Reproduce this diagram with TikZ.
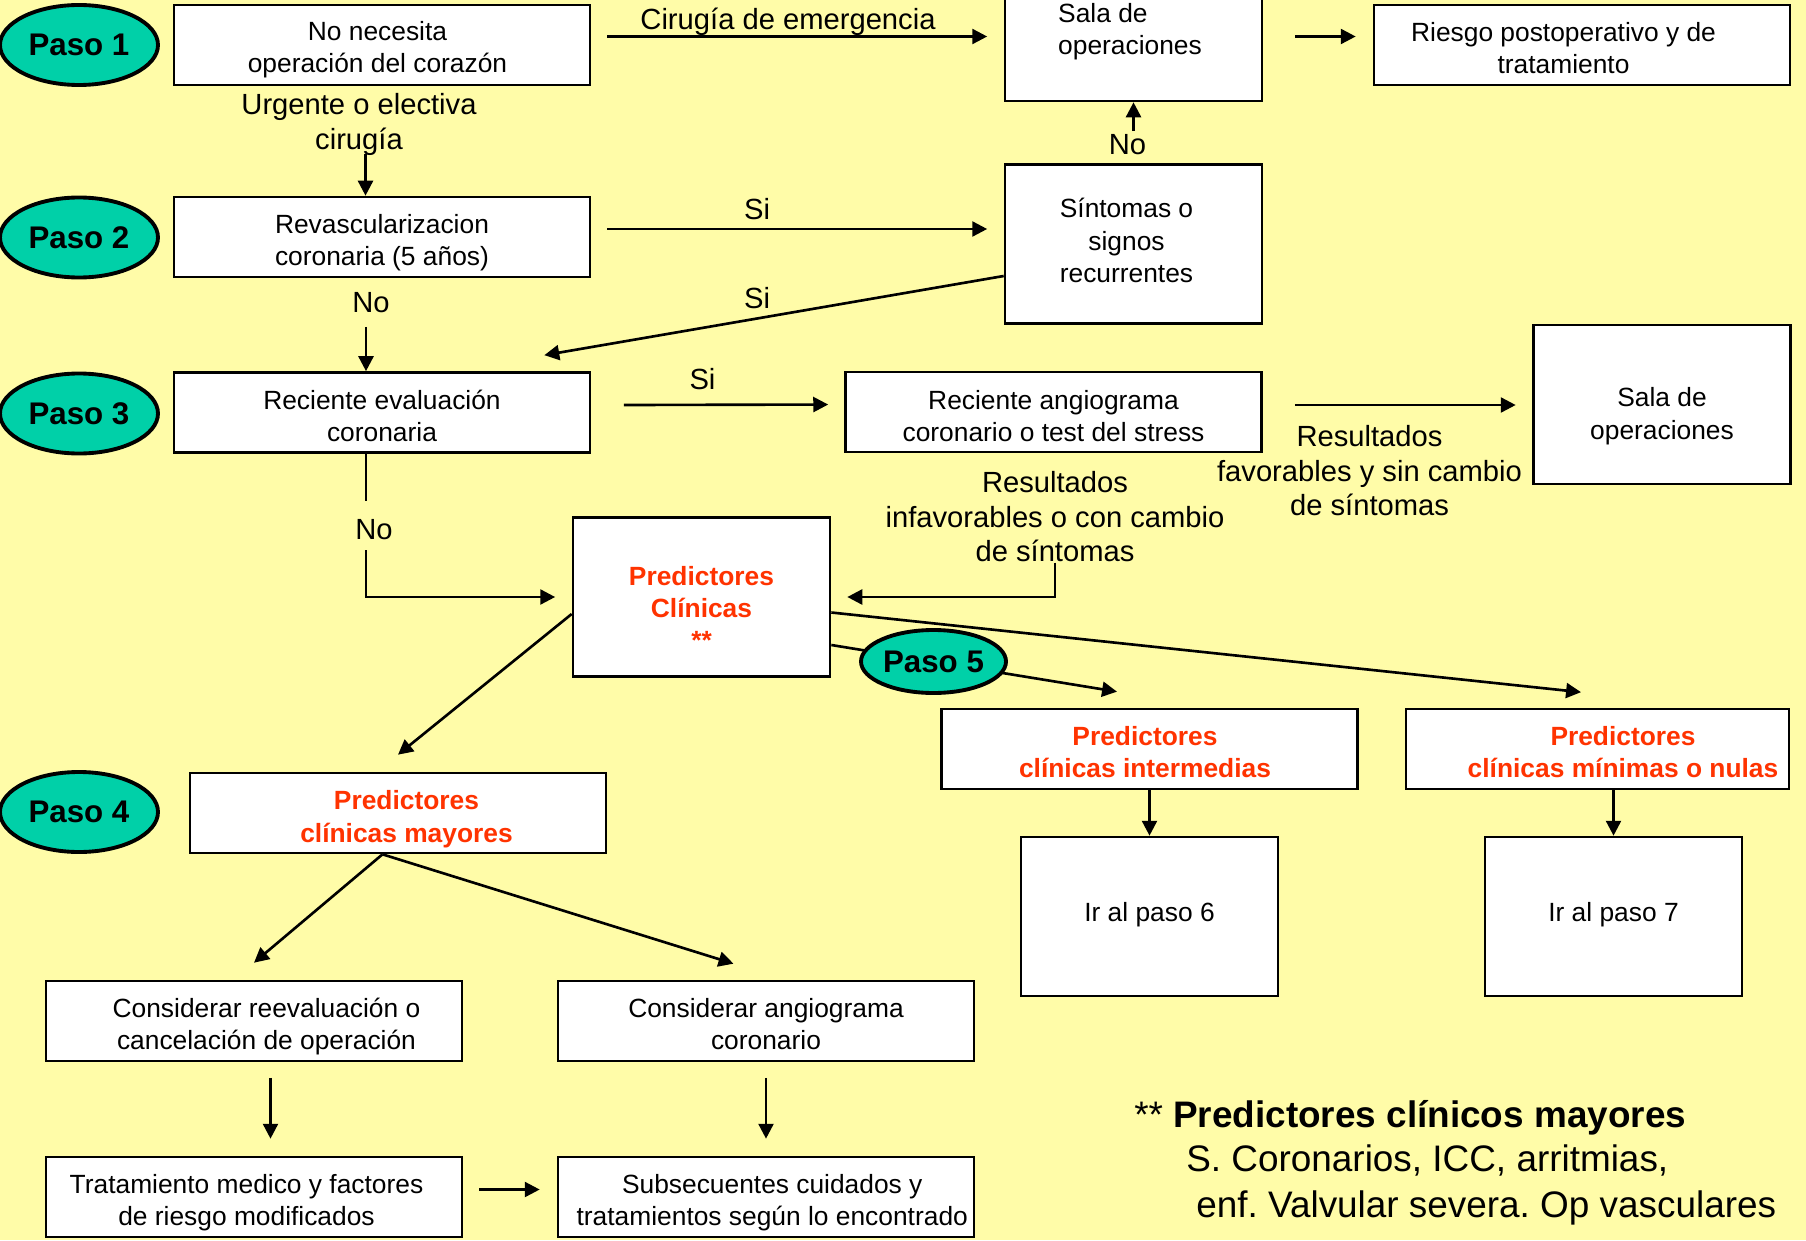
\documentclass[tikz,border=0pt]{standalone}
\usepackage{fontspec}
\setmainfont{Liberation Sans}
\usetikzlibrary{arrows.meta, calc, shapes.geometric}
\definecolor{bgyellow}{RGB}{255,252,168}
\definecolor{pasoteal}{RGB}{0,208,168}
\definecolor{predred}{RGB}{255,51,0}
\newcommand{\boxfont}{\fontsize{15}{18.3}\selectfont}
\newcommand{\lblfont}{\fontsize{16.6}{19.6}\selectfont}
\newcommand{\pasofont}{\fontsize{17.8}{20}\selectfont\bfseries}
\newcommand{\notefont}{\fontsize{21}{25}\selectfont}
\newcommand{\nudge}[1]{\hspace*{#1}}% moves a line of box text sideways
\frenchspacing

\begin{document}
\begin{tikzpicture}[
  box/.style={
    % white boxes with a black border
    draw, fill=white, line width=1.5pt,
    minimum width=8.32cm, minimum height=1.6cm,
    inner sep=0pt, align=center, font=\boxfont,
    % fixed text box, so the lines sit a bit low as in the slide
    text height=32.7pt, text depth=0pt
  },
  tallbox/.style={box, minimum width=5.14cm, minimum height=3.18cm},
  predtext/.style={text=predred, font=\boxfont\bfseries},
  paso/.style={
    ellipse, draw, line width=2.2pt, fill=pasoteal,
    minimum width=3.16cm, minimum height=1.6cm,
    inner sep=0pt, font=\pasofont
  },
  lbl/.style={font=\lblfont, align=center, inner sep=0pt},
  note/.style={font=\notefont, inner sep=0pt, anchor=base west},
  arr/.style={-{Triangle[length=8.5pt, width=8.5pt]}, line width=1.5pt},
  ]

  \useasboundingbox (0,0) rectangle (36.12,-24.8);
  \clip (0,0) rectangle (36.12,-24.8);
  \fill[bgyellow] (0,0) rectangle (36.12,-24.8);

  % step ovals on the left
  \foreach \n/\y in {1/-0.9, 2/-4.75, 3/-8.27, 4/-16.24}
  {
    \node[paso] (paso\n) at (1.58,\y) {Paso \n};
  }

  % boxes
  \node[box, text height=31.6pt] (nonec) at (7.64,-0.9) {\nudge{-0.18cm}No necesita\\\nudge{-0.18cm}operación del corazón};
  \node[tallbox, minimum height=2.9cm, align=left, text height=29.7pt] (sala1) at (22.67,-0.57) {\nudge{-0.14cm}Sala de\\\nudge{-0.14cm}operaciones};
  \node[box] (riesgo) at (31.64,-0.9) {\nudge{-0.74cm}Riesgo postoperativo y de\\\nudge{-0.74cm}tratamiento};
  \node[box, text height=32.1pt] (revasc) at (7.64,-4.74) {Revascularizacion\\coronaria (5 años)};
  \node[tallbox, text height=43.6pt] (sintomas) at (22.67,-4.88) {\nudge{-0.28cm}Síntomas o\\\nudge{-0.28cm}signos\\\nudge{-0.28cm}recurrentes};
  \node[box] (receval) at (7.64,-8.25) {Reciente evaluación\\coronaria};
  \node[box, text height=33.5pt] (recang) at (21.07,-8.24) {Reciente angiograma\\coronario o test del stress};
  \node[tallbox, text height=39.3pt] (sala2) at (33.24,-8.09) {Sala de\\operaciones};
  \node[tallbox, predtext, text height=60pt] (predcl) at (14.03,-11.94) {Predictores\\Clínicas\\**};
  \node[box, predtext] (predint) at (22.99,-14.98) {\nudge{-0.18cm}Predictores\\\nudge{-0.18cm}clínicas intermedias};
  \node[box, predtext, minimum width=7.66cm] (predmin) at (31.95,-14.98) {\nudge{1.02cm}Predictores\\\nudge{1.02cm}clínicas mínimas o nulas};
  \node[box, predtext, text height=33.1pt] (predmay) at (7.96,-16.26) {\nudge{0.34cm}Predictores\\\nudge{0.34cm}clínicas mayores};
  \node[tallbox, text height=5.6pt] (irpaso6) at (22.99,-18.33) {Ir al paso 6};
  \node[tallbox, text height=5.6pt] (irpaso7) at (32.27,-18.33) {Ir al paso 7};
  \node[box] (consre) at (5.08,-20.42) {\nudge{0.5cm}Considerar reevaluación o\\\nudge{0.5cm}cancelación de operación};
  \node[box] (consang) at (15.32,-20.42) {Considerar angiograma\\coronario};
  \node[box] (trat) at (5.08,-23.94) {\nudge{-0.3cm}Tratamiento medico y factores\\\nudge{-0.3cm}de riesgo modificados};
  \node[box] (subsec) at (15.32,-23.94) {\nudge{0.25cm}Subsecuentes cuidados y\\\nudge{0.25cm}tratamientos según lo encontrado};

  % connector labels
  \node[lbl] (cirl) at (15.76,-0.43) {Cirugía de emergencia};
  \node[lbl] (urgl) at (7.18,-2.49) {Urgente o electiva\\cirugía};
  \node[lbl] (sil1) at (15.14,-4.19) {Si};
  \node[lbl] (nol1) at (22.55,-2.9) {No};
  \node[lbl] (sil2) at (15.14,-5.96) {Si};
  \node[lbl] (nol2) at (7.42,-6.06) {No};
  \node[lbl] (sil3) at (14.05,-7.58) {Si};
  \node[lbl] (nol3) at (7.48,-10.6) {No};
  \node[lbl] (favl) at (27.39,-9.42) {Resultados\\favorables y sin cambio\\de síntomas};
  \node[lbl] (infavl) at (21.1,-10.34) {Resultados\\infavorables o con cambio\\de síntomas};

  % connectors
  \draw[arr, shorten >=0.33cm] ($(nonec.east)+(0.32,0.17)$) -- ($(sala1.west |- nonec.east)+(0,0.17)$);
  \draw[arr, shorten >=0.34cm] ($(sala1.east |- nonec.east)+(0.64,0.17)$) -- ($(riesgo.west)+(0,0.17)$);
  \draw[arr] ($(nonec.south)+(-0.33,-1.36)$) -- ($(revasc.north)+(-0.33,0)$);
  \draw[arr, shorten >=0.33cm] ($(revasc.east)+(0.32,0.16)$) -- ($(sintomas.west |- revasc.east)+(0,0.16)$);
  \draw[arr, shorten <=0.64cm] (sintomas.north) -- (sala1.south);
  \draw[arr] ($(sintomas.west)+(0,-0.64)$) -- ($(receval.north east)+(-0.94,0.32)$);
  \draw[arr] ($(revasc.south)+(-0.32,-0.97)$) -- ($(receval.north)+(-0.32,0)$);
  \draw[arr, shorten >=0.32cm] ($(receval.east)+(0.65,0.15)$) -- ($(recang.west)+(0,0.15)$);
  \draw[arr, shorten >=0.33cm] ($(recang.east)+(0.64,0.14)$) -- ($(sala2.west |- recang.east)+(0,0.14)$);
  \draw[line width=1.5pt] ($(receval.south)+(-0.32,0)$) -- ++(0,-0.95);
  \draw[arr, shorten >=0.33cm] ($(receval.south)+(-0.32,-1.93)$) |- (predcl.west);
  \draw[arr, shorten >=0.32cm] (infavl.south) |- (predcl.east);
  \draw[arr] ($(predcl.west)+(0,-0.34)$) -- ($(predmay.north)+(0,0.34)$);
  \draw[arr] ($(predcl.east)+(0,-0.96)$) -- ($(predint.north)+(-0.65,0.32)$);
  \draw[arr] ($(predcl.east)+(0,-0.31)$) -- ($(predmin.north)+(-0.33,0.31)$);
  \draw[arr] (predint.south) -- (irpaso6.north);
  \draw[arr] (predmin.south -| irpaso7.north) -- (irpaso7.north);
  \draw[arr] ($(predmay.south)+(-0.31,0)$) -- ($(consre.north)+(0,0.34)$);
  \draw[arr] ($(predmay.south)+(-0.31,0)$) -- ($(consang.north)+(-0.65,0.32)$);
  \draw[arr, shorten <=0.31cm, shorten >=0.34cm] ($(consre.south)+(0.33,0)$) -- ($(trat.north)+(0.33,0)$);
  \draw[arr, shorten <=0.31cm, shorten >=0.34cm] (consang.south) -- (subsec.north);
  \draw[arr, shorten >=0.34cm] ($(trat.east)+(0.32,0.15)$) -- ($(subsec.west)+(0,0.15)$);

  % step 5 sits on top of the lines
  \node[paso, minimum width=2.9cm, minimum height=1.26cm] (paso5) at (18.67,-13.23) {Paso 5};

  % footnote
  \node[note] (note1) at (22.68,-22.54) {** \textbf{Predictores clínicos mayores}};
  \node[note] (note2) at (23.72,-23.42) {S. Coronarios, ICC, arritmias,};
  \node[note] (note3) at (23.92,-24.34) {enf. Valvular severa. Op vasculares};

\end{tikzpicture}
\end{document}
